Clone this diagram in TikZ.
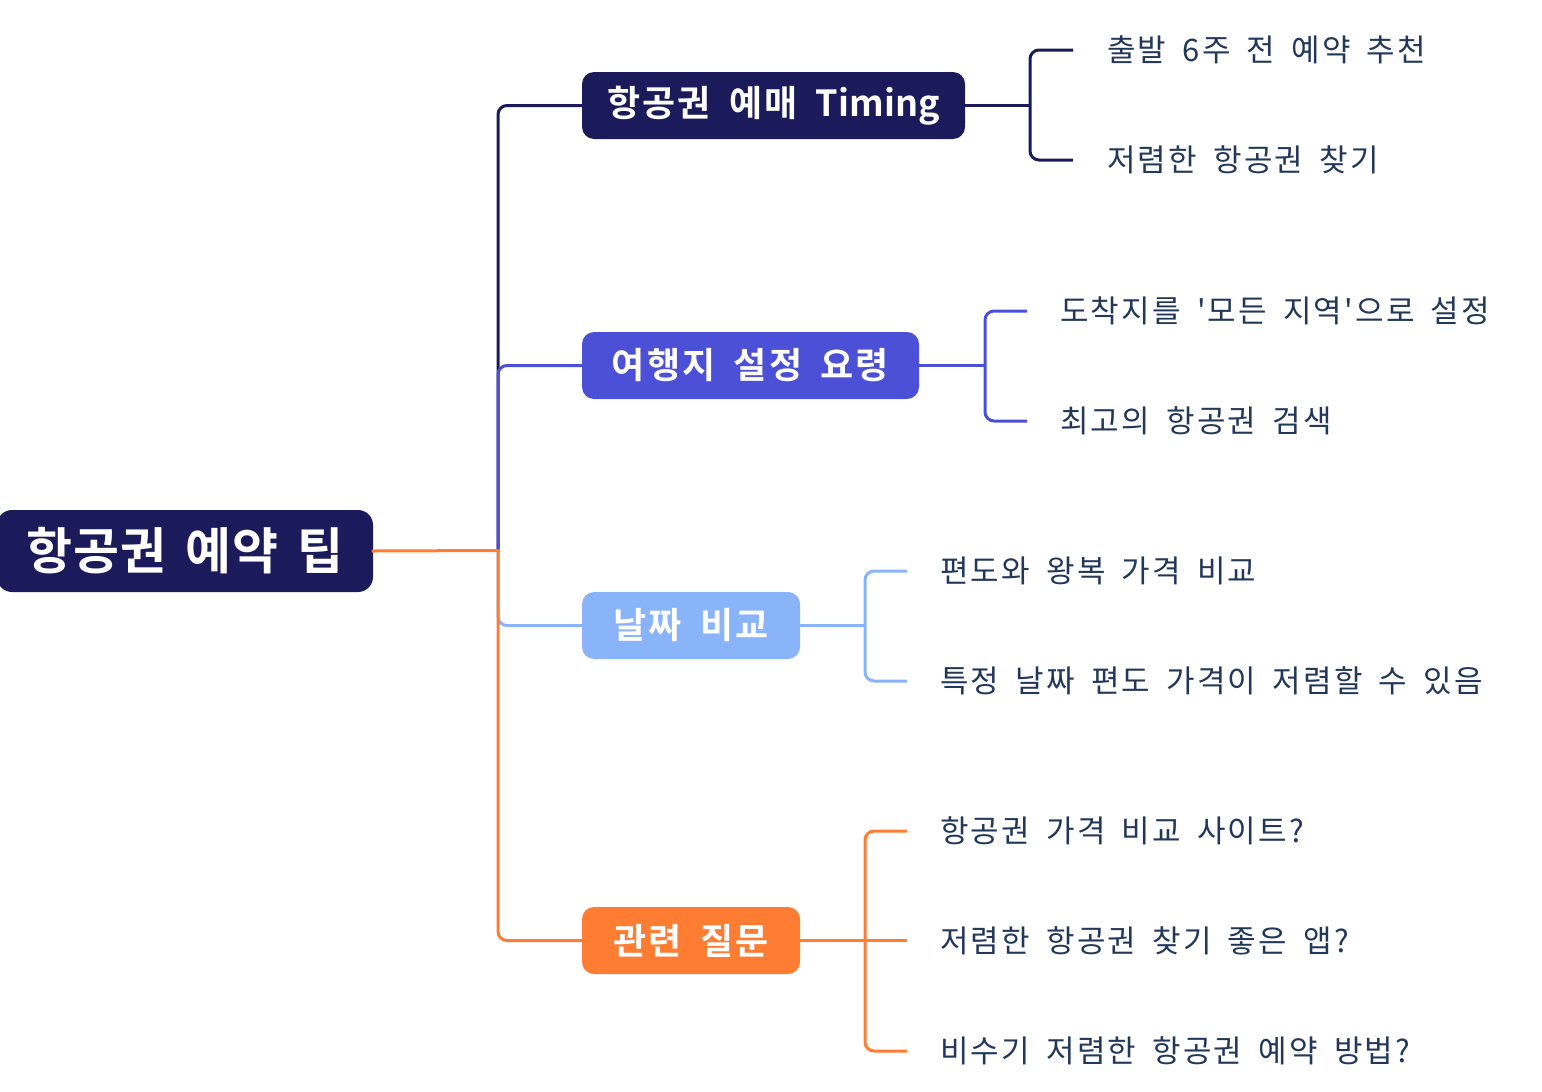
\documentclass[tikz,border=0pt]{standalone}
\usepackage{fontspec}
\setmainfont{Noto Sans CJK KR}
\newfontfamily\leaffont[LetterSpace=7,WordSpace=1.78]{Noto Sans CJK KR}
\newfontfamily\boxfont[LetterSpace=6,WordSpace=1.77]{Noto Sans CJK KR Bold}
\newfontfamily\boxlatin{Noto Sans CJK KR Bold}
\newfontfamily\rootfont[LetterSpace=2,WordSpace=1.52]{Noto Sans CJK KR Bold}
\definecolor{cnavy}{HTML}{1B1A5A}
\definecolor{cpurple}{HTML}{4B50D6}
\definecolor{clblue}{HTML}{8AB4FA}
\definecolor{corange}{HTML}{FF7D33}
\definecolor{ctext}{HTML}{22385A}
\tikzset{
  rootbox/.style={fill=cnavy, text=white, rounded corners=15pt, minimum width=376pt, minimum height=82pt, inner sep=0pt, font=\rootfont\fontsize{50}{56}\selectfont},
  mainbox/.style={text=white, rounded corners=12pt, minimum height=67pt, inner sep=0pt, font=\boxfont\fontsize{36}{40}\selectfont},
  leaf/.style={anchor=west, text=ctext, inner sep=0pt, font=\leaffont\fontsize{31}{34}\selectfont},
  link/.style={line width=3pt, rounded corners=9pt},
}
\begin{document}
\begin{tikzpicture}[x=1pt,y=-1pt]
\useasboundingbox (0,0) rectangle (1542,1092);
% main nodes
\node[rootbox] (root) at (185,551) {항공권 예약 팁};
\node[mainbox, fill=cnavy, minimum width=383pt] (b1) at (773.5,105.5) {항공권 예매 {\boxlatin Timing}};
\node[mainbox, fill=cpurple, minimum width=337pt] (b2) at (750.5,365.5) {여행지 설정 요령};
\node[mainbox, fill=clblue, minimum width=218pt] (b3) at (691,625.5) {날짜 비교};
\node[mainbox, fill=corange, minimum width=218pt] (b4) at (691,940.5) {관련 질문};
% trunk junction
\coordinate (t0) at (498,550.5);
% leaves
\node[leaf] (c11) at (1107,50) {출발 6주 전 예약 추천};
\node[leaf] (c12) at (1107,160) {저렴한 항공권 찾기};
\node[leaf] (c21) at (1060,311) {도착지를 '모든 지역'으로 설정};
\node[leaf] (c22) at (1060,421) {최고의 항공권 검색};
\node[leaf] (c31) at (940,571) {편도와 왕복 가격 비교};
\node[leaf] (c32) at (940,681) {특정 날짜 편도 가격이 저렴할 수 있음};
\node[leaf] (c41) at (940,831) {항공권 가격 비교 사이트?};
\node[leaf] (c42) at (940,941) {저렴한 항공권 찾기 좋은 앱?};
\node[leaf] (c43) at (940,1051) {비수기 저렴한 항공권 예약 방법?};
% bracket coordinates
\coordinate (j1) at (1030,105.5);
\coordinate (j2) at (985,365.5);
\coordinate (j3) at (865,625.5);
\coordinate (j4) at (865,940.5);
\coordinate (e11) at (1073,50);
\coordinate (e12) at (1073,160);
\coordinate (e21) at (1027,311);
\coordinate (e22) at (1027,421);
\coordinate (e31) at (907,571);
\coordinate (e32) at (907,681);
\coordinate (e41) at (907,831);
\coordinate (e42) at (907,940.5);
\coordinate (e43) at (907,1051);
% root connectors
\draw[link, cnavy] (t0) |- (b1.west);
\draw[link, cpurple] (t0) |- (b2.west);
\draw[link, clblue] (t0) |- (b3.west);
\draw[link, corange] (t0) |- (b4.west);
\draw[line width=3pt, line cap=rect, corange] (root.east) -- (t0);
% child connectors
\draw[link, cnavy] (b1.east) -- (j1);
\draw[link, cnavy] (e11) -| (j1) |- (e12);
\draw[link, cpurple] (b2.east) -- (j2);
\draw[link, cpurple] (e21) -| (j2) |- (e22);
\draw[link, clblue] (b3.east) -- (j3);
\draw[link, clblue] (e31) -| (j3) |- (e32);
\draw[link, corange] (b4.east) -- (e42);
\draw[link, corange] (e41) -| (j4) |- (e43);
\end{tikzpicture}
\end{document}
